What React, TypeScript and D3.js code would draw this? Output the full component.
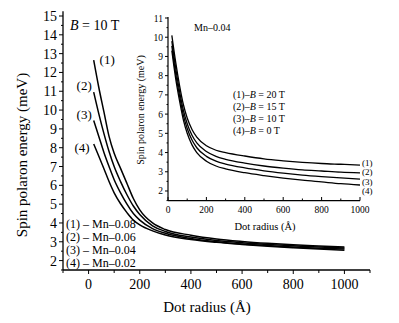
import React from "react";
import * as d3 from "d3";

// Main chart data (B = 10 T), dot radius in Å, energy in meV
const mainR = [20, 40, 60, 80, 100, 125, 150, 175, 200, 250, 300, 400, 500, 600, 700, 800, 900, 1000];
const mainMn008 = [12.65, 11.2, 9.9, 8.6, 7.7, 6.9, 6.1, 5.3, 4.7, 4.0, 3.65, 3.35, 3.15, 3.02, 2.92, 2.84, 2.78, 2.72];
const mainMn006 = [10.95, 9.8, 8.75, 7.8, 7.0, 6.2, 5.5, 4.9, 4.45, 3.85, 3.55, 3.25, 3.07, 2.95, 2.86, 2.79, 2.72, 2.67];
const mainMn004 = [9.45, 8.6, 7.75, 7.0, 6.3, 5.6, 5.0, 4.5, 4.15, 3.7, 3.45, 3.17, 3.0, 2.88, 2.8, 2.72, 2.66, 2.61];
const mainMn002 = [8.2, 7.55, 6.88, 6.2, 5.6, 5.02, 4.55, 4.15, 3.9, 3.58, 3.36, 3.12, 2.97, 2.86, 2.76, 2.68, 2.61, 2.55];
const mainLegend = ["(1) – Mn–0.08", "(2) – Mn–0.06", "(3) – Mn–0.04", "(4) – Mn–0.02"];
const mainCurveLabels = ["(1)", "(2)", "(3)", "(4)"];
const mainXTicks = [0, 200, 400, 600, 800, 1000];
const mainYTicks = [2, 3, 4, 5, 6, 7, 8, 9, 10, 11, 12, 13, 14, 15];

// Inset data (Mn-0.04)
const insetR = [20, 40, 60, 80, 100, 125, 150, 200, 250, 300, 400, 500, 600, 700, 800, 900, 1000];
const inset20T = [10.1, 8.7, 7.5, 6.5, 5.8, 5.2, 4.8, 4.35, 4.12, 4.0, 3.82, 3.67, 3.57, 3.49, 3.43, 3.39, 3.35];
const inset15T = [9.8, 8.4, 7.2, 6.2, 5.5, 4.9, 4.5, 4.05, 3.8, 3.65, 3.45, 3.3, 3.19, 3.1, 3.04, 2.98, 2.94];
const inset10T = [9.55, 8.1, 6.95, 5.95, 5.25, 4.65, 4.25, 3.8, 3.55, 3.4, 3.2, 3.05, 2.93, 2.83, 2.75, 2.68, 2.62];
const inset0T = [9.3, 7.85, 6.7, 5.7, 5.0, 4.4, 4.0, 3.55, 3.3, 3.15, 2.95, 2.8, 2.67, 2.56, 2.47, 2.38, 2.31];
const insetLegendB = ["20 T", "15 T", "10 T", "0 T"];
const insetXTicks = [0, 200, 400, 600, 800, 1000];
const insetYTicks = [2, 3, 4, 5, 6, 7, 8, 9, 10, 11];

const FONT = "'Liberation Serif', 'Times New Roman', serif";

export default function App() {
  // main scales
  const x = d3.scaleLinear().domain([-100, 1100]).range([63, 370]);
  const y = d3.scaleLinear().domain([1.5, 15.25]).range([270, 11.3]);
  // inset scales
  const xi = d3.scaleLinear().domain([0, 1000]).range([168, 360]);
  const yi = d3.scaleLinear().domain([1.5, 11]).range([200.6, 18]);

  const mainSeries = [mainMn008, mainMn006, mainMn004, mainMn002];
  const insetSeries = [inset20T, inset15T, inset10T, inset0T];

  const lineMain = d3
    .line<number>()
    .x((_, i) => x(mainR[i]))
    .y((d) => y(d))
    .curve(d3.curveMonotoneX);
  const lineInset = d3
    .line<number>()
    .x((_, i) => xi(insetR[i]))
    .y((d) => yi(d))
    .curve(d3.curveMonotoneX);

  const mainXMinor = d3.range(-100, 1101, 100);
  const mainYMinor = d3.range(1.5, 15.01, 0.5);
  const insetXMinor = d3.range(0, 1001, 100);
  const insetYMinor = d3.range(1.5, 11.01, 0.5);

  const labelPos = [
    { r: 43, e: 12.45 },
    { r: -47, e: 11.07 },
    { r: -47, e: 9.53 },
    { r: -55, e: 7.78 },
  ];

  const insetEndLabelTop = yi(inset20T[inset20T.length - 1]) + 0.5;

  return (
    <svg width={399} height={323} style={{ position: "absolute", left: 0, top: 0, background: "#fff" }} fontFamily={FONT}>
      <rect width={399} height={323} fill="#fff" />
      {/* main axes */}
      <line x1={x(-100)} x2={x(1100)} y1={270} y2={270} stroke="#000" strokeWidth={1.3} />
      <line x1={63} x2={63} y1={y(15.25)} y2={270} stroke="#000" strokeWidth={1.3} />
      {mainXMinor.map((v) => (
        <line key={"mx" + v} x1={x(v)} x2={x(v)} y1={270} y2={v % 200 === 0 ? 274 : 273} stroke="#000" strokeWidth={1} />
      ))}
      {mainXTicks.map((v) => (
        <text key={"mxt" + v} x={x(v)} y={289} fontSize={14} textAnchor="middle">{v}</text>
      ))}
      {mainYMinor.map((v) => (
        <line key={"my" + v} x1={Number.isInteger(v) ? 59 : 61} x2={63} y1={y(v)} y2={y(v)} stroke="#000" strokeWidth={1} />
      ))}
      {mainYTicks.map((v) => (
        <text key={"myt" + v} x={57} y={y(v) + 5} fontSize={14} textAnchor="end">{v}</text>
      ))}
      <text x={207} y={312} fontSize={15} textAnchor="middle">Dot radius (Å)</text>
      <text transform={`translate(27,${155}) rotate(-90)`} fontSize={15} textAnchor="middle">Spin polaron energy (meV)</text>
      <text x={70} y={30} fontSize={14}>
        <tspan fontStyle="italic">B</tspan> = 10 T
      </text>
      {mainSeries.map((s, i) => (
        <path key={"ms" + i} d={lineMain(s) || ""} fill="none" stroke="#000" strokeWidth={1.5} />
      ))}
      {mainCurveLabels.map((t, i) => (
        <text key={"mcl" + i} x={x(labelPos[i].r)} y={y(labelPos[i].e)} fontSize={13}>{t}</text>
      ))}
      {mainLegend.map((t, i) => (
        <text key={"ml" + i} x={66} y={227.5 + i * 13} fontSize={12}>{t}</text>
      ))}

      {/* inset */}
      <line x1={168} x2={360} y1={200.6} y2={200.6} stroke="#000" strokeWidth={1.2} />
      <line x1={168} x2={168} y1={17} y2={200.6} stroke="#000" strokeWidth={1.2} />
      {insetXMinor.map((v) => (
        <line key={"ix" + v} x1={xi(v)} x2={xi(v)} y1={200.6} y2={v % 200 === 0 ? 197 : 198.5} stroke="#000" strokeWidth={1} />
      ))}
      {insetXTicks.map((v) => (
        <text key={"ixt" + v} x={xi(v)} y={213} fontSize={9.5} textAnchor="middle">{v}</text>
      ))}
      {insetYMinor.map((v) => (
        <line key={"iy" + v} x1={Number.isInteger(v) ? 165 : 166.5} x2={168} y1={yi(v)} y2={yi(v)} stroke="#000" strokeWidth={1} />
      ))}
      {insetYTicks.map((v) => (
        <text key={"iyt" + v} x={163} y={yi(v) + 3.5} fontSize={9.5} textAnchor="end">{v}</text>
      ))}
      <text x={265} y={230} fontSize={10.5} textAnchor="middle">Dot radius (Å)</text>
      <text transform={`translate(144,110) rotate(-90)`} fontSize={10} textAnchor="middle">Spin polaron energy (meV)</text>
      <text x={194} y={31} fontSize={10}>Mn–0.04</text>
      {insetSeries.map((s, i) => (
        <path key={"is" + i} d={lineInset(s) || ""} fill="none" stroke="#000" strokeWidth={1.3} />
      ))}
      {insetLegendB.map((t, i) => (
        <text key={"il" + i} x={233} y={98 + i * 12} fontSize={10}>
          ({i + 1})–<tspan fontStyle="italic">B</tspan> = {t}
        </text>
      ))}
      {insetSeries.map((s, i) => (
        <text key={"ie" + i} x={362} y={insetEndLabelTop + i * 9.6} fontSize={9}>({i + 1})</text>
      ))}
    </svg>
  );
}
